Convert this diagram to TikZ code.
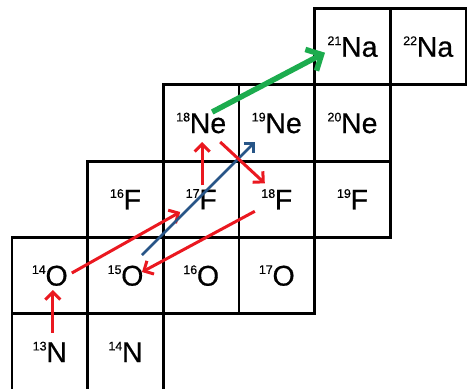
\documentclass[tikz,border=0pt]{standalone}
\usepackage{fontspec}
\setmainfont[FakeBold=0.5]{Liberation Sans}
\usetikzlibrary{arrows.meta,calc}
\definecolor{arrred}{RGB}{234,24,32}
\definecolor{arrgreen}{RGB}{28,172,78}
\definecolor{arrblue}{RGB}{40,85,135}
\newcommand{\iso}[2]{\raisebox{11.6pt}{\fontsize{12.5}{12.5}\selectfont #1}\kern-0.3pt{\fontsize{28.5}{28.5}\selectfont #2}}
\begin{document}
\begin{tikzpicture}[x=1pt,y=-1pt,
  cell/.style={draw, line width=2.8pt, minimum width=75.67pt, minimum height=76.3pt, inner sep=0pt, outer sep=0pt},
  redarr/.style={draw=arrred, line width=3pt, -{Straight Barb[length=7.5pt,width=15pt]}},
  bluearr/.style={draw=arrblue, line width=2.8pt, -{Straight Barb[length=7pt,width=14pt]}},
  greenarr/.style={draw=arrgreen, line width=5.5pt, -{Straight Barb[length=12pt,width=24pt]}}]
\useasboundingbox (0,0) rectangle (467,389);
% Na row
\node[cell] (na21) at (352.5,46.7) {\iso{21}{Na}};
\node[cell] (na22) at (428.2,46.7) {\iso{22}{Na}};
% Ne row
\node[cell] (ne18) at (201.2,123) {\iso{18}{Ne}};
\node[cell] (ne19) at (276.8,123) {\iso{19}{Ne}};
\node[cell] (ne20) at (352.5,123) {\iso{20}{Ne}};
% F row
\node[cell] (f16) at (125.5,199.3) {\iso{16}{F}};
\node[cell] (f17) at (201.2,199.3) {\iso{17}{F}};
\node[cell] (f18) at (276.8,199.3) {\iso{18}{F}};
\node[cell] (f19) at (352.5,199.3) {\iso{19}{F}};
% O row
\node[cell] (o14) at (49.8,275.6) {\iso{14}{O}};
\node[cell] (o15) at (125.5,275.6) {\iso{15}{O}};
\node[cell] (o16) at (201.2,275.6) {\iso{16}{O}};
\node[cell] (o17) at (276.8,275.6) {\iso{17}{O}};
% N row
\node[cell] (n13) at (49.8,351.9) {\iso{13}{N}};
\node[cell] (n14) at (125.5,351.9) {\iso{14}{N}};
% arrows
\draw[redarr] ($(n13.center)+(3,-19)$) -- ($(o14.center)+(3,14.4)$);
\draw[redarr] ($(o14.center)+(22,-2.6)$) -- ($(f17.center)+(-21,12.7)$);
\draw[redarr] ($(f18.center)+(-22,12)$) -- ($(o15.center)+(16.5,-3.6)$);
\draw[bluearr] ($(o15.center)+(16.5,-20.6)$) -- ($(ne19.center)+(-21.8,19)$);
\draw[redarr] ($(f17.center)+(1,-14)$) -- ($(ne18.center)+(1,19)$);
\draw[redarr] ($(ne18.center)+(19,19)$) -- ($(f18.center)+(-12,-16)$);
\draw[greenarr] ($(ne18.center)+(11,-11)$) -- ($(na21.center)+(-27.5,6)$);
\end{tikzpicture}
\end{document}
